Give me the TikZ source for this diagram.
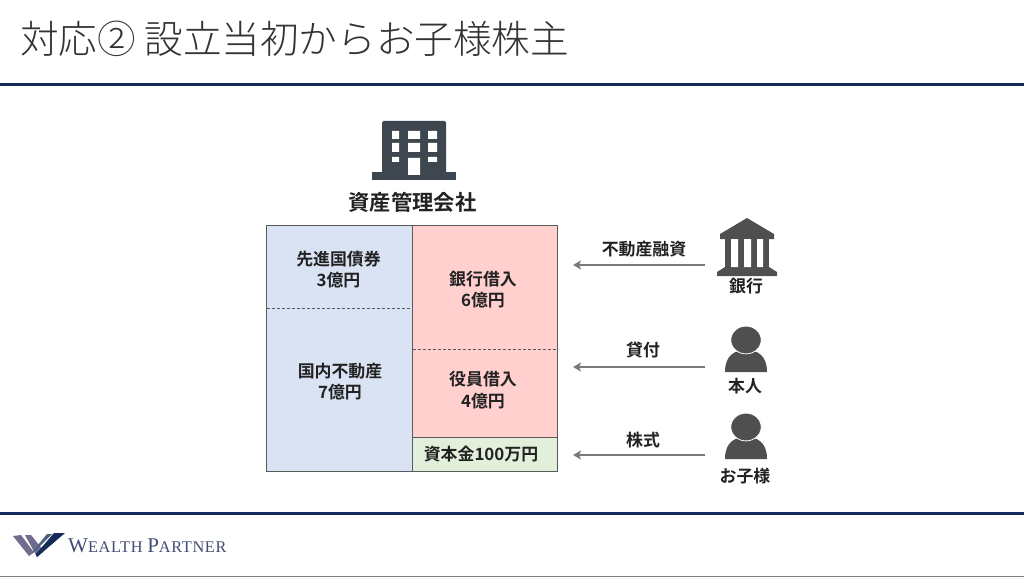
\documentclass[tikz,border=0pt]{standalone}
\usepackage{fontspec}
\setmainfont{Noto Sans CJK JP}[BoldFont={Noto Sans CJK JP Bold}]
\newfontfamily\titlefont{Noto Sans CJK JP Light}
\newfontfamily\logofont[LetterSpace=4]{Liberation Serif}
\usetikzlibrary{arrows.meta}
\definecolor{navy}{HTML}{152B5C}
\definecolor{ink}{HTML}{222222}
\definecolor{titleink}{HTML}{333333}
\definecolor{iconslate}{HTML}{3E4650}
\definecolor{icongray}{HTML}{4F4F4F}
\definecolor{boxblue}{HTML}{DAE3F3}
\definecolor{boxpink}{HTML}{FFD0CE}
\definecolor{boxgreen}{HTML}{E2EFDA}
\definecolor{edge}{HTML}{5A5A5A}
\definecolor{arrowgray}{HTML}{7A7A7A}
\definecolor{logogray}{HTML}{6F6C8E}
\tikzset{
  x=1pt,y=-1pt,
  rulebar/.style={draw=navy,line width=3pt},
  panel/.style={minimum width=#1,inner sep=0pt,outer sep=0pt,anchor=north west},
  dashline/.style={draw=edge,line width=0.5pt,densely dashed},
  lab/.style={font=\bfseries\fontsize{16.9}{21.5}\selectfont,text=ink,align=center,inner sep=0pt},
  flow/.style={draw=arrowgray,line width=1.6pt,-{Stealth[length=8pt,width=9pt,inset=2pt]}},
  person/.pic={
    \fill[icongray] (-21,16) .. controls (-21,-1) and (-11,-6) .. (0,-6)
       .. controls (11,-6) and (21,-1) .. (21,16) -- cycle;
    \fill[icongray,draw=white,line width=0.8pt] (0,-16) ellipse[x radius=15.2,y radius=13.9];
  }
}
\begin{document}
\begin{tikzpicture}
\useasboundingbox (0,0) rectangle (1024,577);
\fill[white] (0,0) rectangle (1024,577);
% title and rules
\node[anchor=west,inner sep=0pt,text=titleink,font=\titlefont\fontsize{38.6}{42}\selectfont] (title) at (20,39) {対応② 設立当初からお子様株主};
\coordinate (r1a) at (0,85); \coordinate (r1b) at (1024,85);
\coordinate (r2a) at (0,513); \coordinate (r2b) at (1024,513);
\coordinate (r3a) at (0,576.5); \coordinate (r3b) at (1024,576.5);
\draw[rulebar] (r1a) -- (r1b);
\draw[rulebar] (r2a) -- (r2b);
\draw[draw=black!50,line width=1pt] (r3a) -- (r3b);
% building
\fill[iconslate,rounded corners=1.5pt] (382,121) rectangle (446,173);
\fill[iconslate] (372,172) rectangle (456,180);
\fill[white] (392,131) rectangle (399,139) (408,131) rectangle (420,139) (428,131) rectangle (437,139)
  (392,143) rectangle (399,152) (408,143) rectangle (420,152) (428,143) rectangle (437,152)
  (392,157) rectangle (399,162) (428,157) rectangle (437,162) (408,158) rectangle (420,175);
\node[font=\bfseries\fontsize{21.3}{24}\selectfont,text=ink,inner sep=0pt] (company) at (412.5,202) {資産管理会社};
% balance sheet
\node[panel=146pt,minimum height=83pt,fill=boxblue] (a1) at (266.5,225.5) {};
\node[panel=146pt,minimum height=162.5pt,fill=boxblue] (a2) at (266.5,308.5) {};
\node[panel=145pt,minimum height=123.5pt,fill=boxpink] (l1) at (412.5,225.5) {};
\node[panel=145pt,minimum height=88pt,fill=boxpink] (l2) at (412.5,349) {};
\node[panel=145pt,minimum height=34pt,fill=boxgreen] (l3) at (412.5,437) {};
\draw[dashline] (a1.south west) -- (a1.south east);
\draw[dashline] (l1.south west) -- (l1.south east);
\draw[draw=edge,line width=0.9pt] (a1.north west) rectangle (l3.south east);
\draw[draw=edge,line width=0.9pt] (a1.north east) -- (a2.south east);
\draw[draw=edge,line width=0.9pt] (l3.north west) -- (l3.north east);
\node[lab] (ta1) at (338.5,269.5) {先進国債券\\3億円};
\node[lab] (ta2) at (340,381.5) {国内不動産\\7億円};
\node[lab] (tl1) at (483,289.5) {銀行借入\\6億円};
\node[lab] (tl2) at (483,390) {役員借入\\4億円};
\node[lab] (tl3) at (481,454) {資本金100万円};
% bank
\fill[icongray] (747,218) -- (774,234) -- (774,239) -- (720,239) -- (720,234) -- cycle;
\fill[icongray] (725,239) rectangle (769,268);
\fill[icongray] (725,267) -- (769,267) -- (777,272) -- (777,276) -- (717,276) -- (717,272) -- cycle;
\fill[white] (731,239) rectangle (738,267) (744,239) rectangle (751,267) (757,239) rectangle (763,267);
\node[lab] (bank) at (746,286) {銀行};
% people
\pic at (746,356) {person};
\node[lab] (self) at (745,386) {本人};
\pic at (746,443) {person};
\node[lab] (child) at (745,476) {お子様};
% arrows
\coordinate (e1) at (705,265); \coordinate (t1) at (573,265);
\coordinate (e2) at (705,367); \coordinate (t2) at (573,367);
\coordinate (e3) at (705,455); \coordinate (t3) at (573,455);
\draw[flow] (e1) -- (t1);
\draw[flow] (e2) -- (t2);
\draw[flow] (e3) -- (t3);
\node[lab] (f1) at (644,249) {不動産融資};
\node[lab] (f2) at (643,350) {貸付};
\node[lab] (f3) at (643,440) {株式};
% logo
\fill[logogray] (13,536) -- (21,535) -- (33,551) -- (29,556) -- cycle;
\fill[logogray] (25,535) -- (31,535) -- (44,551) -- (37,557) -- cycle;
\fill[navy!75] (29,556) -- (47,534) -- (52,534) -- (33,553) -- cycle;
\fill[navy] (36,554) -- (54,533) -- (65,533) -- (37,557) -- cycle;
\node[anchor=west,inner sep=0pt,text=logogray!50!navy,font=\logofont] (logo) at (68,546)
  {\fontsize{21}{22}\selectfont W\fontsize{16.3}{22}\selectfont EALTH \fontsize{21}{22}\selectfont P\fontsize{16.3}{22}\selectfont ARTNER};
\end{tikzpicture}
\end{document}
